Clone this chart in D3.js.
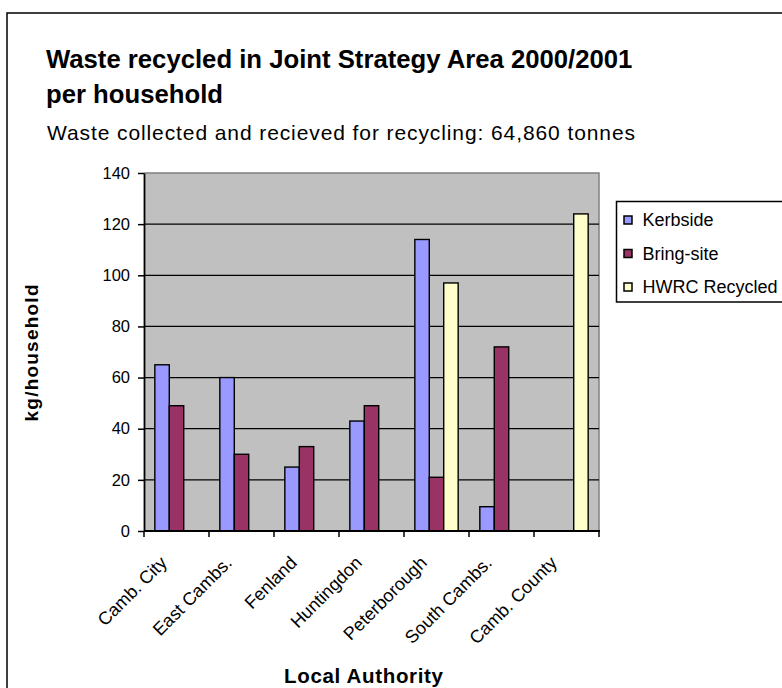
<!DOCTYPE html>
<html><head><meta charset="utf-8">
<script src="https://cdn.jsdelivr.net/npm/d3@7"></script>
<style>body{margin:0;background:#fff}svg{display:block;font-family:"Liberation Sans",Arial,sans-serif}</style>
</head><body><svg id="c" width="782" height="688"></svg>
<script>
const categories = ["Camb. City","East Cambs.","Fenland","Huntingdon","Peterborough","South Cambs.","Camb. County"];
const seriesNames = ["Kerbside","Bring-site","HWRC Recycled"];
const kerbside = [65, 60, 25, 43, 114, 9.5, 0];
const bringSite = [49, 30, 33, 49, 21, 72, 0];
const hwrc = [0, 0, 0, 0, 97, 0, 124];
const colors = ["#9999FF","#993366","#FFFFCC"];
const yTicks = [0,20,40,60,80,100,120,140];

const series = [kerbside, bringSite, hwrc];
const svg = d3.select("#c");
svg.append("rect").attr("x",7).attr("y",13).attr("width",800).attr("height",700)
  .attr("fill","#fff").attr("stroke","#000").attr("stroke-width",1.5);

const L=144, R=599, T=173, B=531;
const y = d3.scaleLinear().domain([0,140]).range([B,T]);
const x0 = d3.scaleBand().domain(categories).range([L,R]).padding(0);
const x1 = d3.scaleBand().domain(seriesNames).range([0,x0.bandwidth()]).paddingInner(0).paddingOuter(0.75);

svg.append("rect").attr("x",L).attr("y",T).attr("width",R-L).attr("height",B-T).attr("fill","#C0C0C0");
svg.append("path").attr("d",`M${L},${T}H${R}V${B}`).attr("fill","none").attr("stroke","#808080").attr("stroke-width",1.5);

svg.append("g").selectAll("line").data(yTicks.filter(d=>d>0 && d<140)).join("line")
  .attr("x1",L).attr("x2",R).attr("y1",d=>y(d)).attr("y2",d=>y(d))
  .attr("stroke","#000").attr("stroke-width",1.3);

const flat=[];
categories.forEach((c,i)=>seriesNames.forEach((s,j)=>{ if(series[j][i]>0) flat.push({c,s,v:series[j][i],j}); }));
svg.append("g").selectAll("rect").data(flat).join("rect")
  .attr("x",d=>x0(d.c)+x1(d.s)).attr("width",x1.bandwidth())
  .attr("y",d=>y(d.v)).attr("height",d=>y(0)-y(d.v))
  .attr("fill",d=>colors[d.j]).attr("stroke","#000").attr("stroke-width",1.4);

// y axis
const ya = svg.append("g").attr("transform",`translate(${L},0)`)
  .call(d3.axisLeft(y).tickValues(yTicks).tickSize(6).tickPadding(8).tickSizeOuter(0));
ya.select(".domain").attr("stroke","#000").attr("stroke-width",1.8);
ya.selectAll(".tick line").attr("stroke-width",1.5);
ya.selectAll("text").attr("font-size",16.5).attr("font-family","Liberation Sans, Arial, sans-serif").attr("fill","#000");

// x axis
svg.append("line").attr("x1",L).attr("x2",R+1).attr("y1",B).attr("y2",B).attr("stroke","#000").attr("stroke-width",1.8);
const bounds = categories.map(c=>x0(c)).concat([R]);
svg.append("g").selectAll("line").data(bounds).join("line")
  .attr("x1",d=>d).attr("x2",d=>d).attr("y1",B).attr("y2",B+6).attr("stroke","#000").attr("stroke-width",1.5);
svg.append("g").selectAll("text").data(categories).join("text")
  .attr("transform",d=>`translate(${x0(d)+x0.bandwidth()/2-8.5},${B+33}) rotate(-45)`)
  .attr("text-anchor","end").attr("font-size",18).text(d=>d);

// titles
svg.append("text").attr("x",46).attr("y",68).attr("font-size",25.7).attr("font-weight","bold").text("Waste recycled in Joint Strategy Area 2000/2001");
svg.append("text").attr("x",46).attr("y",103).attr("font-size",25.7).attr("font-weight","bold").text("per household");
svg.append("text").attr("x",47).attr("y",140).attr("font-size",21).attr("textLength",588).attr("lengthAdjust","spacing")
  .text("Waste collected and recieved for recycling: 64,860 tonnes");
svg.append("text").attr("transform","translate(38,353) rotate(-90)").attr("text-anchor","middle")
  .attr("font-size",19).attr("font-weight","bold").attr("textLength",137).attr("lengthAdjust","spacing").text("kg/household");
svg.append("text").attr("x",284).attr("y",683)
  .attr("font-size",20.5).attr("font-weight","bold").attr("textLength",159).attr("lengthAdjust","spacing").text("Local Authority");

// legend
const lg = svg.append("g");
lg.append("rect").attr("x",616.5).attr("y",201.5).attr("width",200).attr("height",100.5).attr("fill","#fff").attr("stroke","#000").attr("stroke-width",1.5);
const li = lg.selectAll("g").data(seriesNames).join("g").attr("transform",(d,i)=>`translate(624,${220+i*33.5})`);
li.append("rect").attr("x",0).attr("y",-4).attr("width",8).attr("height",8).attr("fill",(d,i)=>colors[i]).attr("stroke","#000").attr("stroke-width",1.5);
li.append("text").attr("x",18.5).attr("dy","0.36em").attr("font-size",18).text(d=>d);
</script></body></html>
